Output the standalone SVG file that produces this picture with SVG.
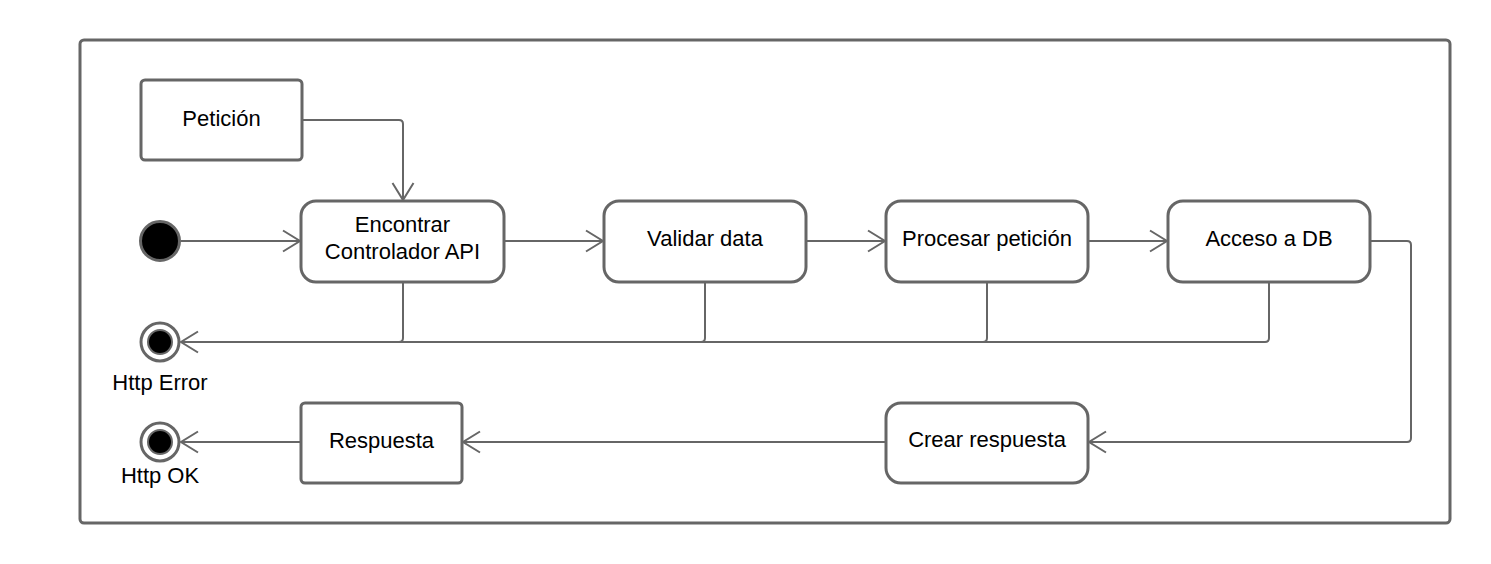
<svg xmlns="http://www.w3.org/2000/svg" width="1491" height="564" viewBox="0 0 1491 564">
<defs>
<marker id="arr" viewBox="0 0 20 24" refX="18" refY="12" markerWidth="20" markerHeight="24" markerUnits="userSpaceOnUse" orient="auto">
<path d="M1 1.5 L18 12 L1 22.5" fill="none" stroke="#666" stroke-width="2"/>
</marker>
</defs>
<style>
.frame{fill:#fff;stroke:#666;stroke-width:3}
.node{fill:#fff;stroke:#666;stroke-width:3}
.conn{fill:none;stroke:#666;stroke-width:2}
.arrow{marker-end:url(#arr)}
text{font-family:"Liberation Sans",Arial,sans-serif;font-size:22px;fill:#000;text-anchor:middle}
</style>
<rect width="1491" height="564" fill="#fff"/>
<rect class="frame" x="80" y="40" width="1370" height="483" rx="4"/>
<g id="connectors">
<path class="conn arrow" d="M302 120 H399 Q403 120 403 124 V200"/>
<path class="conn arrow" d="M181 241 H300"/>
<path class="conn arrow" d="M504 241 H603"/>
<path class="conn arrow" d="M806 241 H885"/>
<path class="conn arrow" d="M1088 241 H1167"/>
<path class="conn" d="M403 282 V338 Q403 342 399 342"/>
<path class="conn" d="M705 282 V338 Q705 342 701 342"/>
<path class="conn" d="M987 282 V338 Q987 342 983 342"/>
<path class="conn" d="M1269 282 V338 Q1269 342 1265 342 H700"/>
<path class="conn arrow" d="M700 342 H181"/>
<path class="conn arrow" d="M1370 241 H1407 Q1411 241 1411 245 V438 Q1411 442 1407 442 H1089"/>
<path class="conn arrow" d="M886 442 H463"/>
<path class="conn arrow" d="M301 442 H181"/>
</g>
<g id="start">
<circle cx="160" cy="241" r="19.5" fill="#000" stroke="#666" stroke-width="3"/>
</g>
<g id="peticion">
<rect class="node" x="141" y="80" width="161" height="80" rx="4"/>
<text x="221.5" y="126">Petición</text>
</g>
<g id="encontrar">
<rect class="node" x="301" y="201" width="203" height="81" rx="15"/>
<text x="402.5" y="232">Encontrar</text>
<text x="402.5" y="259">Controlador API</text>
</g>
<g id="validar">
<rect class="node" x="604" y="201" width="202" height="81" rx="15"/>
<text x="705" y="246">Validar data</text>
</g>
<g id="procesar">
<rect class="node" x="886" y="201" width="202" height="81" rx="15"/>
<text x="987" y="246">Procesar petición</text>
</g>
<g id="acceso">
<rect class="node" x="1168" y="201" width="202" height="81" rx="15"/>
<text x="1269" y="246">Acceso a DB</text>
</g>
<g id="crear">
<rect class="node" x="886" y="403" width="202" height="80" rx="15"/>
<text x="987" y="447">Crear respuesta</text>
</g>
<g id="respuesta">
<rect class="node" x="301" y="403" width="161" height="80" rx="4"/>
<text x="381.5" y="448">Respuesta</text>
</g>
<g id="http-error">
<circle cx="160" cy="342" r="19" fill="#fff" stroke="#666" stroke-width="3"/>
<circle cx="160" cy="342" r="12" fill="#000" stroke="#666" stroke-width="2"/>
<text x="160" y="390">Http Error</text>
</g>
<g id="http-ok">
<circle cx="160" cy="442" r="19" fill="#fff" stroke="#666" stroke-width="3"/>
<circle cx="160" cy="442" r="12" fill="#000" stroke="#666" stroke-width="2"/>
<text x="160" y="483">Http OK</text>
</g>
</svg>
